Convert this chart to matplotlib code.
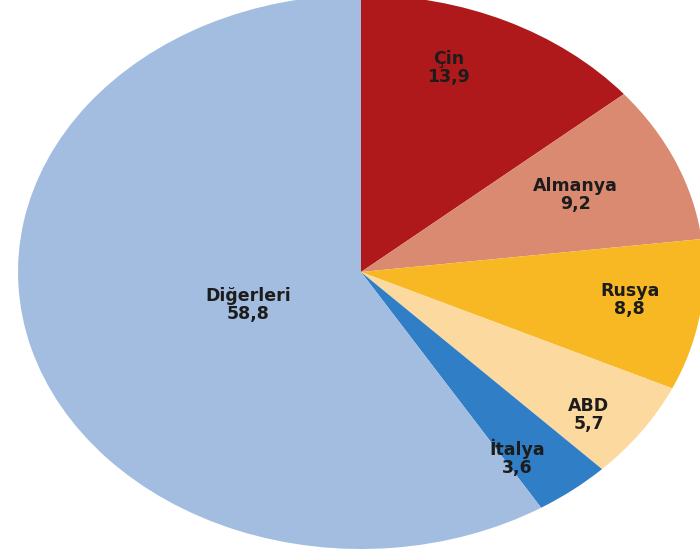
import numpy as np
import matplotlib
matplotlib.use("Agg")
import matplotlib.pyplot as plt

countries = ["Çin", "Almanya", "Rusya", "ABD", "İtalya", "Diğerleri"]
shares = [13.9, 9.2, 8.8, 5.7, 3.6, 58.8]
value_labels = ["13,9", "9,2", "8,8", "5,7", "3,6", "58,8"]

colors = ["#B0191B", "#D98A71", "#F8B823", "#FCD99E", "#2F7EC6", "#A3BDE1"]
label_r = [0.78, 0.685, 0.79, 0.84, 0.81, 0.35]
label_shift = [6, 0.5, 1.7, -2.7, -4, 4]

plt.rcParams['font.family'] = ['DejaVu Sans']

fig = plt.figure(figsize=(7, 5.56), dpi=100)
ax = fig.add_axes([18 / 700, 7 / 556, 686 / 700, 554 / 556])

wedges, _ = ax.pie(shares, colors=colors, startangle=90, counterclock=False,
                   wedgeprops=dict(edgecolor="none"))
ax.set_aspect("auto")
ax.set_xlim(-1, 1)
ax.set_ylim(-1, 1)
ax.axis("off")

for w, name, val, r, sh in zip(wedges, countries, value_labels, label_r, label_shift):
    ang = np.deg2rad((w.theta1 + w.theta2) / 2 + sh)
    ax.text(r * np.cos(ang), r * np.sin(ang), name + "\n" + val,
            ha="center", va="center", fontsize=12.5, fontweight="bold",
            color="#1c1c1c", linespacing=1.0)

fig.savefig("out.png", dpi=100)
